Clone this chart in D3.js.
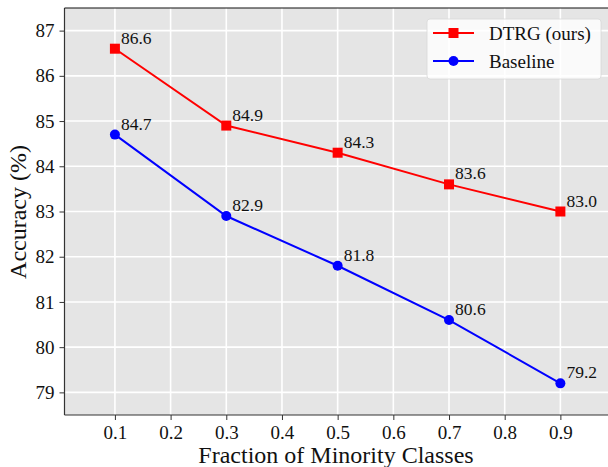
<!DOCTYPE html>
<html>
<head>
<meta charset="utf-8">
<script src="https://cdn.jsdelivr.net/npm/d3@7"></script>
<style>
body { margin: 0; background: #fff; }
svg text { font-family: "Liberation Serif", "Times New Roman", serif !important; }
</style>
</head>
<body>
<div id="chart"></div>
<script>
const fractions = [0.1, 0.3, 0.5, 0.7, 0.9];
const dtrg = [86.6, 84.9, 84.3, 83.6, 83.0];
const baseline = [84.7, 82.9, 81.8, 80.6, 79.2];
const xTicks = [0.1, 0.2, 0.3, 0.4, 0.5, 0.6, 0.7, 0.8, 0.9];
const yTicks = [79, 80, 81, 82, 83, 84, 85, 86, 87];

const width = 608, height = 467;
const plot = {left: 64.5, top: 8, right: 612, bottom: 415};

const svg = d3.select('#chart').append('svg')
	.attr('width', width)
	.attr('height', height)
	.attr('font-family', '"Liberation Serif", serif');

const x = d3.scaleLinear().domain([0.01, 0.99]).range([plot.left + 0.3, plot.right - 1.5]);
const y = d3.scaleLinear().domain([78.5, 87.5]).range([plot.bottom, plot.top]);

svg.append('rect')
	.attr('x', plot.left).attr('y', plot.top)
	.attr('width', plot.right - plot.left).attr('height', plot.bottom - plot.top)
	.attr('fill', '#e5e5e5');

// grid
svg.append('g').selectAll('line').data(xTicks).join('line')
	.attr('x1', d => x(d)).attr('x2', d => x(d))
	.attr('y1', plot.top).attr('y2', plot.bottom)
	.attr('stroke', '#fff').attr('stroke-width', 1.6);
svg.append('g').selectAll('line').data(yTicks).join('line')
	.attr('x1', plot.left).attr('x2', plot.right)
	.attr('y1', d => y(d)).attr('y2', d => y(d))
	.attr('stroke', '#fff').attr('stroke-width', 1.6);

// axes
const xAxis = svg.append('g')
	.attr('transform', `translate(0,${plot.bottom})`)
	.call(d3.axisBottom(x).tickValues(xTicks).tickFormat(d3.format('.1f')).tickSize(5).tickPadding(6));
const yAxis = svg.append('g')
	.attr('transform', `translate(${plot.left},0)`)
	.call(d3.axisLeft(y).tickValues(yTicks).tickSize(5).tickPadding(5));
[xAxis, yAxis].forEach(a => {
	a.attr('font-family', '"Liberation Serif", serif').attr('font-size', 19);
	a.select('.domain').remove();
	a.selectAll('line').attr('stroke', '#333').attr('stroke-width', 1);
	a.selectAll('text').attr('fill', '#111');
});

// spines
svg.append('line').attr('x1', plot.left).attr('x2', plot.left)
	.attr('y1', plot.top).attr('y2', plot.bottom).attr('stroke', '#333').attr('stroke-width', 1.2);
svg.append('line').attr('x1', plot.left).attr('x2', plot.right)
	.attr('y1', plot.bottom).attr('y2', plot.bottom).attr('stroke', '#333').attr('stroke-width', 1.2);
svg.append('line').attr('x1', plot.left).attr('x2', plot.right)
	.attr('y1', plot.top).attr('y2', plot.top).attr('stroke', '#111').attr('stroke-width', 1.2);

const series = [
	{name: 'DTRG (ours)', values: dtrg, color: '#ff0000', marker: 'square'},
	{name: 'Baseline', values: baseline, color: '#0000ff', marker: 'circle'}
];

const line = d3.line().x((d, i) => x(fractions[i])).y(d => y(d));

function drawMarker(g, type, color) {
	if (type === 'square') {
		g.append('rect').attr('x', -5).attr('y', -5).attr('width', 10).attr('height', 10).attr('fill', color);
	} else {
		g.append('circle').attr('r', 5).attr('fill', color);
	}
}

series.forEach(s => {
	svg.append('path').datum(s.values)
		.attr('d', line)
		.attr('fill', 'none')
		.attr('stroke', s.color)
		.attr('stroke-width', 2);
	s.values.forEach((v, i) => {
		const g = svg.append('g').attr('transform', `translate(${x(fractions[i])},${y(v)})`);
		drawMarker(g, s.marker, s.color);
		g.append('text')
			.attr('x', 6).attr('y', -5)
			.attr('font-size', 17.5)
			.attr('fill', '#111')
			.text(v.toFixed(1));
	});
});

// legend
const legend = svg.append('g').attr('transform', 'translate(427,19)');
legend.append('rect')
	.attr('width', 174).attr('height', 60).attr('rx', 3)
	.attr('fill', 'rgba(255,255,255,0.8)').attr('stroke', '#d8d8d8').attr('stroke-width', 0.8);
series.forEach((s, i) => {
	const row = legend.append('g').attr('transform', `translate(0,${14 + i * 28})`);
	row.append('line').attr('x1', 6).attr('x2', 47).attr('stroke', s.color).attr('stroke-width', 2);
	const m = row.append('g').attr('transform', 'translate(26.5,0)');
	drawMarker(m, s.marker, s.color);
	row.append('text').attr('x', 62).attr('y', 7)
		.attr('font-size', 19).attr('fill', '#111').text(s.name);
});

// axis labels
svg.append('text')
	.attr('x', 336).attr('y', 463)
	.attr('text-anchor', 'middle').attr('font-size', 24).attr('fill', '#111')
	.text('Fraction of Minority Classes');
svg.append('text')
	.attr('transform', 'translate(26,212) rotate(-90)')
	.attr('text-anchor', 'middle').attr('font-size', 24).attr('fill', '#111')
	.text('Accuracy (%)');
</script>
</body>
</html>
